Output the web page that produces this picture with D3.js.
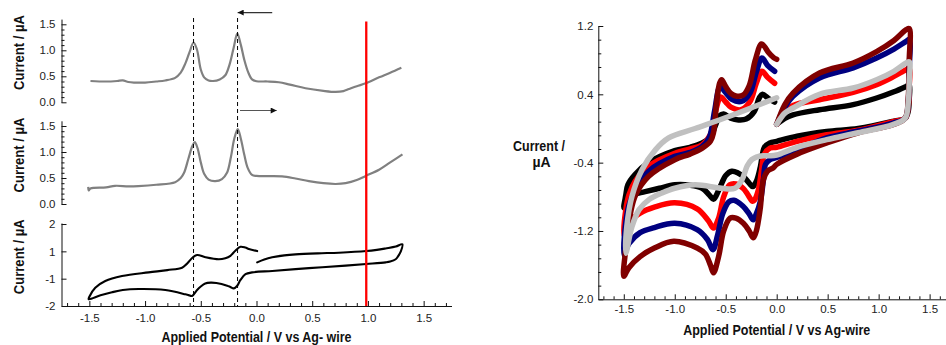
<!DOCTYPE html>
<html>
<head>
<meta charset="utf-8">
<script src="https://cdn.jsdelivr.net/npm/d3@7"></script>
<style>
  html, body { margin: 0; padding: 0; background: #fff; }
  svg { display: block; }
  .tick text { font-family: "Liberation Sans", Arial, sans-serif; font-size: 11.5px; fill: #222; }
  .axis path, .axis line { stroke: #111; }
  .title { font-family: "Liberation Sans", Arial, sans-serif; font-weight: bold; font-size: 14px; fill: #111; }
</style>
</head>
<body>
<svg id="chart" width="946" height="345"></svg>
<script>
// ---------- tick values ----------
const potentialTicks = [-1.5, -1.0, -0.5, 0.0, 0.5, 1.0, 1.5];
const potentialMinor = d3.range(-17, 18).filter(i => i % 5 !== 0).map(i => i / 10);
const peakCurrentTicks = [0.0, 0.5, 1.0, 1.5];
const peakCurrentMinor = d3.range(0, 16).filter(i => i % 5 !== 0).map(i => i / 10);
const cvLeftTicks = [-2, -2 / 3, 2 / 3, 2];
const cvRightTicks = [-2.0, -1.2, -0.4, 0.4, 1.2];
const cvRightMinor = d3.range(0, 21).filter(i => i % 5 !== 0).map(i => -2 + i * 0.16);

// ---------- reference potentials (V) ----------
const peakPotentials = [-0.565, -0.17];
const markerPotential = 0.985;
const reverseArrow = [0.141, -0.169];
const forwardArrow = [-0.148, 0.181];

// ---------- square-wave traces [V, µA] ----------
const reverseScan = [
  [-1.49, 0.41], [-1.35, 0.40], [-1.25, 0.41], [-1.2, 0.42], [-1.15, 0.39], [-1.1, 0.38],
  [-1.0, 0.38], [-0.9, 0.40], [-0.82, 0.42], [-0.73, 0.47], [-0.68, 0.57], [-0.64, 0.74],
  [-0.6, 0.97], [-0.565, 1.15], [-0.535, 1.02], [-0.5, 0.63], [-0.47, 0.48], [-0.43, 0.42],
  [-0.39, 0.41], [-0.33, 0.44], [-0.28, 0.52], [-0.24, 0.74], [-0.205, 1.05], [-0.172, 1.32],
  [-0.14, 1.1], [-0.11, 0.82], [-0.075, 0.58], [-0.04, 0.44], [0.0, 0.405], [0.1, 0.40],
  [0.2, 0.385], [0.3, 0.34], [0.44, 0.27], [0.6, 0.22], [0.71, 0.20], [0.78, 0.215],
  [0.83, 0.255], [0.9, 0.31], [0.98, 0.365], [1.1, 0.48], [1.2, 0.57], [1.3, 0.665]
];
const forwardScan = [
  [-1.51, 0.33], [-1.505, 0.26], [-1.49, 0.30], [-1.35, 0.32], [-1.27, 0.35], [-1.15, 0.34],
  [-1.06, 0.345], [-0.9, 0.37], [-0.73, 0.42], [-0.68, 0.5], [-0.65, 0.6], [-0.61, 0.88],
  [-0.575, 1.12], [-0.554, 1.19], [-0.53, 1.08], [-0.5, 0.80], [-0.47, 0.58], [-0.43, 0.47],
  [-0.37, 0.44], [-0.31, 0.48], [-0.265, 0.60], [-0.23, 0.9], [-0.2, 1.25], [-0.168, 1.44],
  [-0.14, 1.25], [-0.11, 0.95], [-0.08, 0.70], [-0.04, 0.56], [0.0, 0.54], [0.1, 0.535],
  [0.23, 0.53], [0.35, 0.49], [0.47, 0.44], [0.6, 0.40], [0.71, 0.385], [0.8, 0.40],
  [0.9, 0.46], [0.98, 0.54], [1.1, 0.66], [1.2, 0.80], [1.31, 0.955]
];

// ---------- single cyclic voltammogram [V, µA] ----------
const cvSingle = [
  [0.006, 0.13], [0.07, 0.27], [0.141, 0.376], [0.25, 0.47], [0.35, 0.52], [0.55, 0.57],
  [0.74, 0.60], [0.986, 0.68], [1.08, 0.74], [1.159, 0.81], [1.25, 0.90], [1.309, 1.01],
  [1.294, 0.65], [1.27, 0.42], [1.249, 0.28], [1.2, 0.17], [1.159, 0.13], [0.986, 0.05],
  [0.8, -0.03], [0.59, -0.11], [0.35, -0.2], [0.141, -0.29], [-0.039, -0.36], [-0.099, -0.45],
  [-0.144, -0.73], [-0.173, -1.01], [-0.204, -1.14], [-0.235, -1.07], [-0.263, -1.01],
  [-0.36, -0.88], [-0.41, -0.86], [-0.46, -0.9], [-0.50, -1.05], [-0.533, -1.22], [-0.578, -1.51],
  [-0.61, -1.47], [-0.638, -1.43], [-0.818, -1.22], [-1.057, -1.17], [-1.2, -1.22],
  [-1.297, -1.33], [-1.4, -1.48], [-1.506, -1.67],
  [-1.5, -1.55], [-1.447, -1.11], [-1.357, -0.78], [-1.207, -0.54], [-0.968, -0.36],
  [-0.8, -0.25], [-0.668, -0.13], [-0.63, 0.03], [-0.608, 0.16], [-0.57, 0.38], [-0.533, 0.49],
  [-0.458, 0.38], [-0.338, 0.28], [-0.28, 0.33], [-0.234, 0.45], [-0.19, 0.7], [-0.144, 0.89],
  [-0.1, 0.85], [-0.069, 0.78], [0.006, 0.68]
];

// ---------- overlaid voltammograms [V, µA] ----------
const cvBlack = [
  [0.0, 0.05], [0.08, 0.12], [0.16, 0.16], [0.42, 0.22], [0.75, 0.28], [0.98, 0.357],
  [1.15, 0.43], [1.27, 0.493], [1.3, 0.51],
  [1.3, 0.35], [1.29, 0.2], [1.26, 0.12], [1.14, 0.083], [0.8, 0.0], [0.49, -0.034],
  [0.2, -0.09], [0.0, -0.15], [-0.066, -0.17], [-0.12, -0.22], [-0.16, -0.45], [-0.2, -0.62],
  [-0.235, -0.68], [-0.27, -0.64], [-0.32, -0.57], [-0.38, -0.52], [-0.44, -0.5], [-0.5, -0.55],
  [-0.55, -0.67], [-0.6, -0.8], [-0.62, -0.83], [-0.66, -0.78], [-0.73, -0.70], [-0.85, -0.665],
  [-1.0, -0.66], [-1.15, -0.7], [-1.29, -0.74], [-1.4, -0.77], [-1.45, -0.795], [-1.5, -0.93],
  [-1.48, -0.78], [-1.46, -0.66], [-1.39, -0.54], [-1.256, -0.40], [-1.0, -0.26], [-0.85, -0.22],
  [-0.73, -0.17], [-0.65, -0.1], [-0.6, 0.04], [-0.56, 0.15], [-0.52, 0.17], [-0.45, 0.12],
  [-0.375, 0.10], [-0.3, 0.11], [-0.22, 0.2], [-0.17, 0.36], [-0.14, 0.40], [-0.08, 0.35],
  [-0.02, 0.31]
];
const cvRed = [
  [0.0, 0.05], [0.08, 0.19], [0.16, 0.27], [0.42, 0.337], [0.75, 0.423], [0.98, 0.513],
  [1.15, 0.61], [1.27, 0.688], [1.3, 0.7],
  [1.3, 0.5], [1.29, 0.25], [1.26, 0.12], [1.14, 0.08], [0.8, -0.02], [0.49, -0.073],
  [0.2, -0.15], [0.0, -0.22], [-0.066, -0.23], [-0.12, -0.3], [-0.15, -0.5], [-0.18, -0.72],
  [-0.22, -0.84], [-0.24, -0.85], [-0.28, -0.78], [-0.33, -0.7], [-0.4, -0.65], [-0.46, -0.66],
  [-0.52, -0.8], [-0.57, -1.05], [-0.62, -1.165], [-0.67, -1.08], [-0.78, -0.94], [-1.0, -0.87],
  [-1.2, -0.92], [-1.34, -0.99], [-1.45, -1.1], [-1.5, -1.25],
  [-1.48, -0.95], [-1.45, -0.78], [-1.39, -0.62], [-1.256, -0.44], [-1.0, -0.29], [-0.85, -0.24],
  [-0.73, -0.19], [-0.65, -0.07], [-0.6, 0.2], [-0.55, 0.37], [-0.5, 0.31], [-0.45, 0.25],
  [-0.35, 0.22], [-0.26, 0.32], [-0.2, 0.53], [-0.145, 0.67], [-0.09, 0.6], [-0.02, 0.53]
];
const cvNavy = [
  [0.0, 0.05], [0.08, 0.25], [0.16, 0.376], [0.42, 0.59], [0.75, 0.71], [0.98, 0.825],
  [1.15, 0.93], [1.27, 1.02], [1.3, 1.04],
  [1.3, 0.7], [1.29, 0.3], [1.26, 0.12], [1.14, 0.064], [0.8, -0.03], [0.49, -0.11],
  [0.2, -0.25], [0.0, -0.34], [-0.066, -0.365], [-0.11, -0.42], [-0.13, -0.6], [-0.16, -0.85],
  [-0.2, -1.0], [-0.23, -1.07], [-0.27, -1.0], [-0.33, -0.91], [-0.42, -0.84], [-0.47, -0.86],
  [-0.53, -1.0], [-0.58, -1.25], [-0.626, -1.42], [-0.68, -1.3], [-0.78, -1.185], [-1.0, -1.11],
  [-1.2, -1.16], [-1.34, -1.22], [-1.45, -1.35], [-1.5, -1.48],
  [-1.48, -1.1], [-1.45, -0.9], [-1.39, -0.72], [-1.256, -0.5], [-1.0, -0.327], [-0.85, -0.28],
  [-0.73, -0.21], [-0.66, -0.1], [-0.61, 0.2], [-0.555, 0.486], [-0.5, 0.42], [-0.44, 0.34],
  [-0.34, 0.32], [-0.26, 0.42], [-0.2, 0.66], [-0.145, 0.825], [-0.09, 0.74], [-0.02, 0.67]
];
const cvMaroon = [
  [0.0, 0.05], [0.08, 0.28], [0.16, 0.415], [0.42, 0.65], [0.75, 0.767], [0.98, 0.90],
  [1.15, 1.03], [1.27, 1.157], [1.3, 1.17],
  [1.3, 0.8], [1.29, 0.35], [1.26, 0.12], [1.14, 0.045], [0.8, -0.05], [0.49, -0.17],
  [0.2, -0.3], [0.0, -0.42], [-0.033, -0.46], [-0.09, -0.5], [-0.13, -0.6], [-0.163, -0.95],
  [-0.2, -1.2], [-0.229, -1.28], [-0.27, -1.2], [-0.327, -1.11], [-0.4, -1.05], [-0.457, -1.05],
  [-0.52, -1.2], [-0.57, -1.5], [-0.62, -1.69], [-0.65, -1.6], [-0.7, -1.47], [-0.78, -1.40],
  [-1.01, -1.32], [-1.2, -1.4], [-1.34, -1.50], [-1.45, -1.63], [-1.5, -1.73],
  [-1.48, -1.4], [-1.47, -1.26], [-1.39, -0.795], [-1.256, -0.56], [-1.0, -0.365], [-0.85, -0.3],
  [-0.73, -0.23], [-0.65, -0.15], [-0.62, -0.05], [-0.59, 0.3], [-0.56, 0.53], [-0.54, 0.57],
  [-0.5, 0.49], [-0.45, 0.41], [-0.4, 0.38], [-0.33, 0.39], [-0.27, 0.5], [-0.21, 0.8],
  [-0.15, 0.99], [-0.12, 0.96], [-0.08, 0.89], [-0.03, 0.83], [0.0, 0.81]
];
const cvGrey = [
  [0.0, 0.05], [0.08, 0.18], [0.16, 0.24], [0.42, 0.40], [0.75, 0.474], [0.98, 0.571],
  [1.15, 0.67], [1.27, 0.767], [1.3, 0.78],
  [1.3, 0.55], [1.29, 0.3], [1.26, 0.12], [1.14, 0.045], [0.8, -0.05], [0.49, -0.131],
  [0.2, -0.22], [0.0, -0.31], [-0.066, -0.32], [-0.13, -0.32], [-0.2, -0.335], [-0.245, -0.365],
  [-0.29, -0.44], [-0.34, -0.60], [-0.41, -0.70], [-0.54, -0.70], [-0.8, -0.66], [-1.0, -0.7],
  [-1.125, -0.755], [-1.25, -0.83], [-1.35, -0.95], [-1.42, -1.15], [-1.48, -1.46],
  [-1.47, -1.146], [-1.42, -0.795], [-1.32, -0.48], [-1.19, -0.25], [-1.06, -0.11],
  [-0.8, 0.0], [-0.47, 0.14], [-0.21, 0.26], [0.0, 0.36]
];
const cvSeries = [
  { values: cvBlack, color: "#000000" },
  { values: cvRed, color: "#ff0000" },
  { values: cvNavy, color: "#000080" },
  { values: cvMaroon, color: "#800000" },
  { values: cvGrey, color: "#c0c0c0" }
];

// ---------- scales ----------
const svg = d3.select("#chart");
const xL = d3.scaleLinear().domain([-1.75, 1.75]).range([61.5, 451.5]);
const yTop = d3.scaleLinear().domain([0, 1.6]).range([102.3, 19.1]);
const yMid = d3.scaleLinear().domain([0, 1.6]).range([204, 120.8]);
const yBot = d3.scaleLinear().domain([-2, 2.05]).range([306, 223]);
const xR = d3.scaleLinear().domain([-1.75, 1.75]).range([598.3, 955.1]);
const yR = d3.scaleLinear().domain([-2, 1.2]).range([299.3, 26]);

const fmt1 = d => d.toFixed(1);
const fmtInt = d => Math.round(d).toString();

function addAxis(transform, axis) {
  const g = svg.append("g").attr("class", "axis").attr("transform", transform).call(axis);
  return g;
}
function addMinor(transform, axis) {
  const g = svg.append("g").attr("class", "axis").attr("transform", transform).call(axis);
  g.select(".domain").remove();
  g.selectAll("text").remove();
  return g;
}

// ---------- left column axes ----------
addAxis("translate(0,306)", d3.axisBottom(xL).tickValues(potentialTicks).tickFormat(fmt1)
  .tickSize(-5).tickSizeOuter(0).tickPadding(8));
addMinor("translate(0,306)", d3.axisBottom(xL).tickValues(potentialMinor).tickSize(-3).tickSizeOuter(0));

[yTop, yMid].forEach(y => {
  addAxis("translate(61.5,0)", d3.axisLeft(y).tickValues(peakCurrentTicks).tickFormat(fmt1)
    .tickSize(-5).tickSizeOuter(0).tickPadding(6));
  addMinor("translate(61.5,0)", d3.axisLeft(y).tickValues(peakCurrentMinor).tickSize(-3).tickSizeOuter(0));
});
addAxis("translate(61.5,0)", d3.axisLeft(yBot).tickValues(cvLeftTicks).tickFormat(fmtInt)
  .tickSize(-5).tickSizeOuter(0).tickPadding(6));

// ---------- right panel axes ----------
addAxis("translate(0,299.3)", d3.axisBottom(xR).tickValues(potentialTicks).tickFormat(fmt1)
  .tickSize(-5).tickSizeOuter(0).tickPadding(6));
addMinor("translate(0,299.3)", d3.axisBottom(xR).tickValues(potentialMinor).tickSize(-3).tickSizeOuter(0));
addAxis("translate(598.3,0)", d3.axisLeft(yR).tickValues(cvRightTicks).tickFormat(fmt1)
  .tickSize(-5).tickSizeOuter(0).tickPadding(5));
addMinor("translate(598.3,0)", d3.axisLeft(yR).tickValues(cvRightMinor).tickSize(-3).tickSizeOuter(0));

// ---------- left column traces ----------
const curve = d3.curveCatmullRom.alpha(0.5);
function trace(data, x, y) {
  return d3.line().x(d => x(d[0])).y(d => y(d[1])).curve(curve)(data);
}
svg.append("path").attr("d", trace(reverseScan, xL, yTop))
  .attr("fill", "none").attr("stroke", "#808080").attr("stroke-width", 2.2);
svg.append("path").attr("d", trace(forwardScan, xL, yMid))
  .attr("fill", "none").attr("stroke", "#808080").attr("stroke-width", 2.2);
svg.append("path").attr("d", trace(cvSingle, xL, yBot))
  .attr("fill", "none").attr("stroke", "#000").attr("stroke-width", 2.1)
  .attr("stroke-linejoin", "round").attr("stroke-linecap", "round");

// dashed guides through the peak potentials
svg.selectAll("line.guide").data(peakPotentials).join("line").attr("class", "guide")
  .attr("x1", d => xL(d)).attr("x2", d => xL(d))
  .attr("y1", 18).attr("y2", 306)
  .attr("stroke", "#000").attr("stroke-width", 1).attr("stroke-dasharray", "4,3");

// applied-potential marker
svg.append("line")
  .attr("x1", xL(markerPotential)).attr("x2", xL(markerPotential))
  .attr("y1", 21.5).attr("y2", 306)
  .attr("stroke", "#ff0000").attr("stroke-width", 2.3);

// scan direction arrows
const defs = svg.append("defs");
defs.append("marker").attr("id", "head").attr("viewBox", "0 0 10 10")
  .attr("refX", 10).attr("refY", 5).attr("markerWidth", 8).attr("markerHeight", 6)
  .attr("markerUnits", "userSpaceOnUse").attr("orient", "auto")
  .append("path").attr("d", "M0,0L10,5L0,10Z").attr("fill", "#111");
svg.append("line")
  .attr("x1", xL(reverseArrow[0])).attr("x2", xL(reverseArrow[1]))
  .attr("y1", 12.6).attr("y2", 12.6)
  .attr("stroke", "#333").attr("stroke-width", 1.2).attr("marker-end", "url(#head)");
svg.append("line")
  .attr("x1", xL(forwardArrow[0])).attr("x2", xL(forwardArrow[1]))
  .attr("y1", 110.5).attr("y2", 110.5)
  .attr("stroke", "#555").attr("stroke-width", 1.2).attr("marker-end", "url(#head)");

// ---------- right panel voltammograms ----------
svg.append("g").selectAll("path").data(cvSeries).join("path")
  .attr("d", s => trace(s.values, xR, yR))
  .attr("fill", "none").attr("stroke", s => s.color).attr("stroke-width", 5.5)
  .attr("stroke-linejoin", "round").attr("stroke-linecap", "round");

// ---------- titles ----------
svg.append("text").attr("class", "title").attr("x", 256.5).attr("y", 341.5)
  .attr("text-anchor", "middle").attr("textLength", 190).attr("lengthAdjust", "spacingAndGlyphs")
  .text("Applied Potential / V vs Ag- wire");
svg.append("text").attr("class", "title").attr("x", 776.7).attr("y", 335)
  .attr("text-anchor", "middle").attr("textLength", 187).attr("lengthAdjust", "spacingAndGlyphs")
  .text("Applied Potential / V vs Ag-wire");

[52.5, 155, 256.7].forEach(cy => {
  svg.append("text").attr("class", "title")
    .attr("transform", `translate(24,${cy}) rotate(-90)`)
    .attr("text-anchor", "middle").attr("textLength", 75).attr("lengthAdjust", "spacingAndGlyphs")
    .text("Current / µA");
});
svg.append("text").attr("class", "title").attr("x", 539).attr("y", 151)
  .attr("text-anchor", "middle").attr("textLength", 52).attr("lengthAdjust", "spacingAndGlyphs")
  .text("Current /");
svg.append("text").attr("class", "title").attr("x", 541.5).attr("y", 166.5)
  .attr("text-anchor", "middle").text("µA");
</script>
</body>
</html>
